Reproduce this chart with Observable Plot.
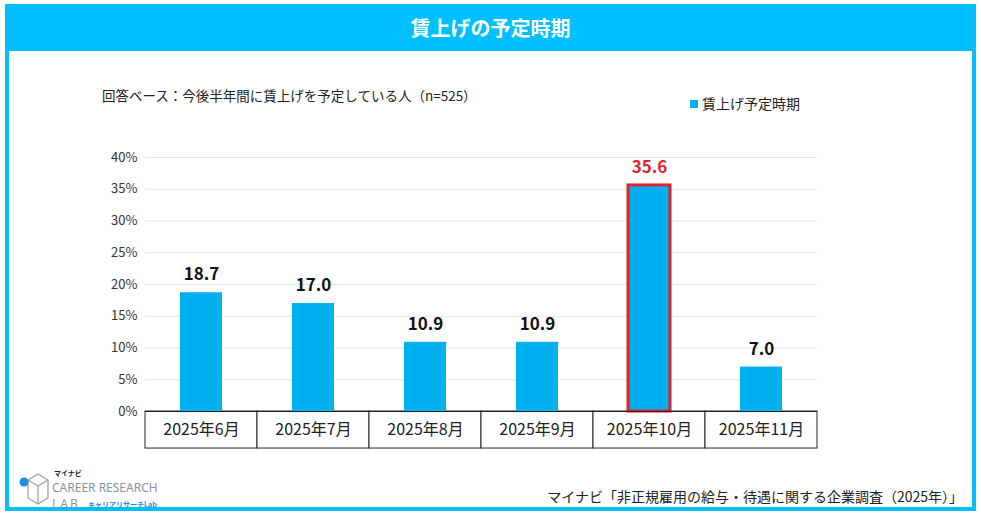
<!DOCTYPE html>
<html><head><meta charset="utf-8">
<script src="https://cdn.jsdelivr.net/npm/d3@7"></script>
<script src="https://cdn.jsdelivr.net/npm/@observablehq/plot@0.6"></script>
<style>
body{margin:0;background:#fff;font-family:"Noto Sans CJK JP","Noto Sans",sans-serif;}
#wrap{position:relative;width:981px;height:522px;overflow:hidden;background:#fff;}
#frame{position:absolute;left:5px;top:5px;width:963px;height:502px;border:4px solid #00BFFF;border-top:none;}
#title{position:absolute;left:5px;top:4px;width:971px;height:47px;background:#00BFFF;color:#fff;font-weight:bold;font-size:20px;text-align:center;line-height:47px;}
#sub{position:absolute;left:102px;top:85px;font-size:13.5px;color:#222;}
#legend{position:absolute;left:690px;top:93px;font-size:14px;color:#222;}
#legend span{display:inline-block;width:8px;height:8px;background:#00B0F0;margin-right:4px;vertical-align:1px;}
#chart{position:absolute;left:0;top:140px;}
#source{position:absolute;right:18px;top:486px;font-size:14px;color:#222;}
#logo{position:absolute;left:16px;top:466px;width:175px;height:45px;}
</style></head>
<body><div id="wrap">
<div id="frame"></div>
<div id="title">賃上げの予定時期</div>
<div id="sub">回答ベース：今後半年間に賃上げを予定している人（n=525）</div>
<div id="legend"><span></span>賃上げ予定時期</div>
<div id="chart"></div>
<div id="logo">
<svg width="175" height="45">
<g fill="none" stroke="#9aa3ab" stroke-width="1.3"><path d="M12 14 L22 8 L32 14 L32 32 L22 38 L12 32 Z"/><path d="M12 14 L22 20 L32 14 M22 20 L22 38"/></g>
<circle cx="8" cy="16" r="4.5" fill="#1a8fd6"/>
<text x="38" y="10" font-size="7" font-weight="bold" fill="#222">マイナビ</text>
<text x="36" y="26" font-size="12" fill="#8a939b" font-family="Noto Sans">CAREER RESEARCH</text>
<text x="36" y="42" font-size="12" fill="#8a939b" font-family="Noto Sans" letter-spacing="2">LAB</text>
<text x="72" y="41" font-size="7" fill="#1a8fd6" font-weight="bold">キャリアリサーチLab</text>
</svg></div>
<div id="source">マイナビ「非正規雇用の給与・待遇に関する企業調査（2025年）」</div>
</div>
<script>
const months = ["2025年6月","2025年7月","2025年8月","2025年9月","2025年10月","2025年11月"];
const values = [18.7, 17.0, 10.9, 10.9, 35.6, 7.0];
const highlight = [false,false,false,false,true,false];
const yTicks = [0,5,10,15,20,25,30,35,40];

const data = months.map((m,i)=>({month:m, value:values[i], hi:highlight[i]}));
const cellDepth = 5.83; // height of category cells below axis, in value units

const chart = Plot.plot({
  width: 981, height: 320,
  marginLeft: 145, marginRight: 164, marginTop: 17, marginBottom: 49,
  style: {fontFamily: '"Noto Sans CJK JP","Noto Sans",sans-serif', background: "transparent"},
  x: {domain: months, padding: 0, axis: null},
  y: {domain: [0, 40], axis: null},
  marks: [
    Plot.ruleY(yTicks.filter(d=>d>0), {stroke: "#e6e6e6", strokeWidth: 1}),
    Plot.text(yTicks, {y: d => d, text: d => d + "%", textAnchor: "end", frameAnchor: "left", dx: -8, fontSize: 13, fill: "#333"}),
    Plot.barY(data, {x: "month", y1: 0, y2: -cellDepth, fill: "white", stroke: "#222", strokeWidth: 1}),
    Plot.text(data, {x: "month", y: -cellDepth/2, text: "month", fontSize: 16, fill: "#222"}),
    Plot.barY(data, {x: "month", y: "value", fill: "#00B0F0", insetLeft: 35, insetRight: 35,
      stroke: d => d.hi ? "#E3232B" : "none", strokeWidth: 3}),
    Plot.ruleY([0], {stroke: "#222", strokeWidth: 1}),
    Plot.text(data, {x: "month", y: "value", text: d => d.value.toFixed(1), dy: -18, fontSize: 17, fontWeight: 600,
      fill: d => d.hi ? "#E3232B" : "#111"})
  ]
});
document.getElementById("chart").appendChild(chart);
</script>
</body></html>
